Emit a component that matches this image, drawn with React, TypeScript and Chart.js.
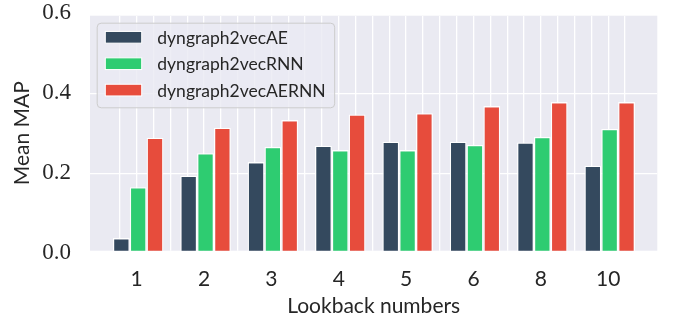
import React, { useEffect, useRef } from 'react';
import { Chart, registerables } from 'chart.js';

Chart.register(...registerables);

// ---- data ----
const lookbacks = ['1', '2', '3', '4', '5', '6', '8', '10'];
const seriesNames = ['dyngraph2vecAE', 'dyngraph2vecRNN', 'dyngraph2vecAERNN'];
const aeValues = [0.038, 0.194, 0.228, 0.269, 0.279, 0.279, 0.277, 0.219];
const rnnValues = [0.165, 0.25, 0.266, 0.258, 0.258, 0.271, 0.291, 0.311];
const aernnValues = [0.289, 0.314, 0.333, 0.347, 0.35, 0.368, 0.378, 0.378];
const yTickValues = [0, 0.2, 0.4, 0.6];

// ---- style ----
const seriesColors = ['#34495e', '#2ecc71', '#e74c3c'];
const TEXT = '#262626';
const BG = '#eaeaf2';
const X_MIN = -0.6933;
const X_MAX = 7.7286;
const Y_MIN = 0.0065;
const Y_MAX = 0.594;
const BAR_SHIFT = 0.022;

export default function App() {
  const ref = useRef<HTMLCanvasElement>(null);

  useEffect(() => {
    const canvas = ref.current!;

    const bgPlugin = {
      id: 'bgArea',
      beforeDraw(chart: any) {
        const { ctx, chartArea: a } = chart;
        ctx.save();
        ctx.fillStyle = BG;
        ctx.fillRect(a.left, a.top, a.right - a.left, a.bottom - a.top);
        ctx.restore();
      },
    };

    const legendPlugin = {
      id: 'boxLegend',
      afterDraw(chart: any) {
        const { ctx, chartArea: a } = chart;
        ctx.save();
        ctx.font = '17.5px Lato';
        const names: string[] = chart.data.datasets.map((d: any) => d.label);
        const maxW = Math.max(...names.map((n) => ctx.measureText(n).width));
        const bx = a.left + 6.7;
        const by = a.top + 7;
        const sw = 36.4;
        const sh = 11.7;
        const rowH = 26.4;
        const padL = 8.6;
        const gap = 15.6;
        const bw = padL + sw + gap + maxW + 8.5;
        const bh = 84.6;
        ctx.beginPath();
        ctx.roundRect(bx + 0.5, by + 0.5, bw, bh, 4);
        ctx.fillStyle = 'rgba(234,234,242,0.8)';
        ctx.fill();
        ctx.strokeStyle = '#cccccc';
        ctx.lineWidth = 1;
        ctx.stroke();
        chart.data.datasets.forEach((d: any, i: number) => {
          const cy = by + 14.6 + i * rowH;
          ctx.fillStyle = d.backgroundColor;
          ctx.fillRect(bx + padL, cy - sh / 2, sw, sh);
          ctx.strokeStyle = '#ffffff';
          ctx.lineWidth = 1;
          ctx.strokeRect(bx + padL, cy - sh / 2, sw, sh);
          ctx.fillStyle = TEXT;
          ctx.textBaseline = 'middle';
          ctx.textAlign = 'left';
          ctx.fillText(d.label, bx + padL + sw + gap, cy + 1);
        });
        ctx.restore();
      },
    };

    const datasets = [aeValues, rnnValues, aernnValues].map((vals, s) => ({
      label: seriesNames[s],
      data: vals.map((v, i) => ({ x: i + BAR_SHIFT, y: v })),
      backgroundColor: seriesColors[s],
      borderColor: '#ffffff',
      borderWidth: 1.3,
      borderSkipped: 'bottom',
      categoryPercentage: 0.75,
      barPercentage: 1,
      clip: 0,
      xAxisID: 'x',
      yAxisID: 'y',
    }));

    const chart = new Chart(canvas, {
      type: 'bar',
      data: { datasets } as any,
      options: {
        responsive: false,
        animation: false,
        layout: { padding: { top: 15.7, right: 18.7, bottom: 0, left: 0 } },
        plugins: { legend: { display: false }, tooltip: { enabled: false } },
        scales: {
          x: {
            type: 'linear',
            position: 'bottom',
            offset: false,
            bounds: 'data',
            min: X_MIN,
            max: X_MAX,
            afterBuildTicks: (s: any) => {
              s.ticks = lookbacks.map((_, i) => ({ value: i }));
            },
            afterFit: (s: any) => {
              s.height = 66.3;
              s.paddingLeft = 0;
              s.paddingRight = 0;
            },
            grid: { display: false, drawTicks: false, offset: false },
            border: { display: false },
            ticks: {
              autoSkip: false,
              maxRotation: 0,
              padding: 16,
              color: TEXT,
              font: { family: 'Lato', size: 21 },
              callback: (v: any) => lookbacks[Math.round(Number(v))] ?? '',
            },
            title: {
              display: true,
              text: 'Lookback numbers',
              color: TEXT,
              font: { family: 'Lato', size: 21, lineHeight: 1 },
              padding: { top: 0, bottom: 0 },
            },
          },
          xg: {
            type: 'linear',
            position: 'top',
            offset: false,
            bounds: 'data',
            min: X_MIN,
            max: X_MAX,
            afterBuildTicks: (s: any) => {
              const t: any[] = [];
              for (let k = -1; k <= (lookbacks.length - 1) * 4 + 1; k++) t.push({ value: k / 4 });
              s.ticks = t;
            },
            afterFit: (s: any) => {
              s.height = 0;
              s.paddingLeft = 0;
              s.paddingRight = 0;
            },
            grid: { color: '#ffffff', lineWidth: 1.3, drawTicks: false, offset: false },
            border: { display: false },
            ticks: { display: false },
          },
          y: {
            type: 'linear',
            min: Y_MIN,
            max: Y_MAX,
            afterBuildTicks: (s: any) => {
              s.ticks = yTickValues.map((v) => ({ value: v }));
            },
            afterFit: (s: any) => {
              s.width = 90;
              s.paddingTop = 0;
              s.paddingBottom = 0;
            },
            grid: { color: '#ffffff', lineWidth: 1.3, drawTicks: false },
            border: { display: false },
            ticks: {
              autoSkip: false,
              padding: 19,
              color: TEXT,
              font: { family: 'Liberation Serif', size: 23 },
              callback: (v: any) => Number(v).toFixed(1),
            },
            title: {
              display: true,
              text: 'Mean MAP',
              color: TEXT,
              font: { family: 'Lato', size: 21, lineHeight: 1 },
              padding: { top: 12, bottom: 0 },
            },
          },
        },
      } as any,
      plugins: [bgPlugin, legendPlugin],
    });

    return () => chart.destroy();
  }, []);

  return (
    <canvas
      ref={ref}
      width={676}
      height={317}
      style={{ position: 'absolute', left: 0, top: 0, display: 'block' }}
    />
  );
}
